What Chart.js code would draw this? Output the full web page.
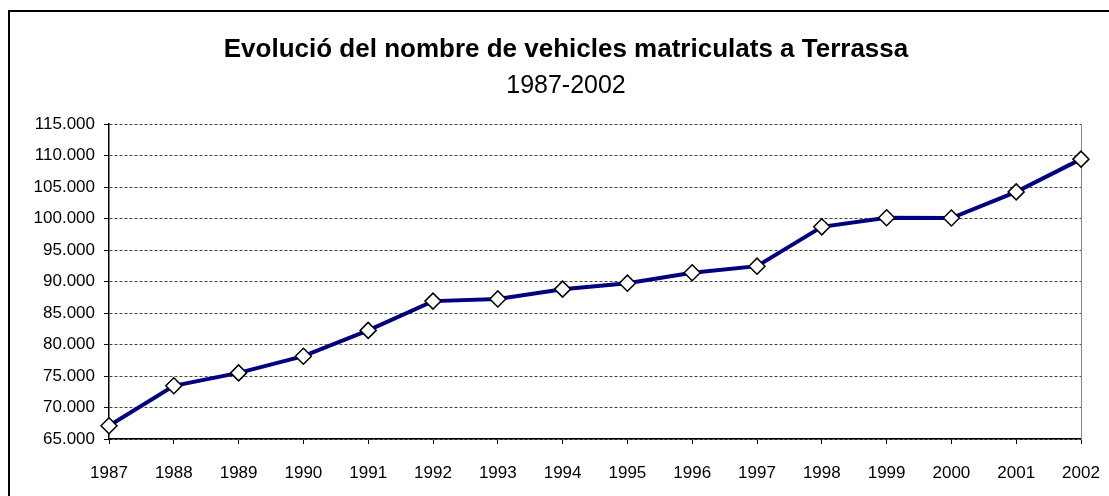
<!DOCTYPE html>
<html>
<head>
<meta charset="utf-8">
<script src="https://cdn.jsdelivr.net/npm/chart.js@4"></script>
<style>
  html, body { margin: 0; padding: 0; background: #fff; overflow: hidden; }
  #wrap { position: relative; width: 1109px; height: 496px; }
  #marc { position: absolute; left: 8px; top: 10px; width: 1200px; height: 600px; border: 2px solid #000; box-sizing: border-box; }
  canvas { position: absolute; left: 0; top: 0; }
</style>
</head>
<body>
<div id="wrap">
  <div id="marc"></div>
  <canvas id="vehicles" width="1109" height="496"></canvas>
</div>
<script>
const anys = ["1987", "1988", "1989", "1990", "1991", "1992", "1993", "1994",
  "1995", "1996", "1997", "1998", "1999", "2000", "2001", "2002"];
const vehicles = [67100, 73450, 75500, 78150, 82250, 86900, 87250, 88800,
  89750, 91400, 92450, 98700, 100150, 100100, 104250, 109450];
const ticksY = [65000, 70000, 75000, 80000, 85000, 90000, 95000, 100000,
  105000, 110000, 115000];

const font = "'Liberation Sans', Arial, sans-serif";

// separador de milers amb punt
function milers(v) {
  return String(v).replace(/\B(?=(\d{3})+(?!\d))/g, ".");
}

new Chart(document.getElementById("vehicles"), {
  type: "line",
  data: {
    labels: anys,
    datasets: [
      {
        label: "Vehicles",
        data: vehicles,
        borderColor: "#000080",
        borderWidth: 4,
        tension: 0,
        pointStyle: "rectRot",
        pointRadius: 8,
        pointBorderWidth: 1.5,
        pointBorderColor: "#000",
        pointBackgroundColor: "#fff",
      },
    ],
  },
  options: {
    responsive: false,
    animation: false,
    layout: { padding: { left: 23, right: 0, top: 0, bottom: 0 } },
    plugins: {
      legend: { display: false },
      tooltip: { enabled: false },
      title: {
        display: true,
        text: "Evolució del nombre de vehicles matriculats a Terrassa",
        color: "#000",
        font: { size: 26, weight: "bold", family: font },
        padding: { top: 34, bottom: 6 },
      },
      subtitle: {
        display: true,
        text: "1987-2002",
        color: "#000",
        font: { size: 25, weight: "normal", family: font },
        padding: { top: 0, bottom: 23 },
      },
    },
    scales: {
      x: {
        offset: false,
        grid: { drawOnChartArea: false, tickLength: 5, tickColor: "#000" },
        border: { color: "#000", width: 1.5 },
        ticks: { color: "#000", padding: 19, maxRotation: 0, font: { size: 17, family: font } },
        afterFit: (s) => { s.height = 57; s.paddingLeft = 0; s.paddingRight = 0; },
      },
      y: {
        min: 65000,
        max: 115000,
        afterBuildTicks: (s) => { s.ticks = ticksY.map((v) => ({ value: v })); },
        grid: { color: "#444", lineWidth: 1, tickLength: 5, tickColor: "#000", tickBorderDash: [] },
        border: { color: "#000", width: 1.5, dash: [3, 2] },
        ticks: { color: "#000", padding: 9, font: { size: 17, family: font }, callback: (v) => milers(v) },
        afterFit: (s) => { s.width = 86; },
      },
      y2: {
        position: "right",
        min: 65000,
        max: 115000,
        grid: { display: false },
        border: { color: "#888", width: 1 },
        ticks: { display: false },
        afterFit: (s) => { s.width = 28; },
      },
    },
  },
});
</script>
</body>
</html>
